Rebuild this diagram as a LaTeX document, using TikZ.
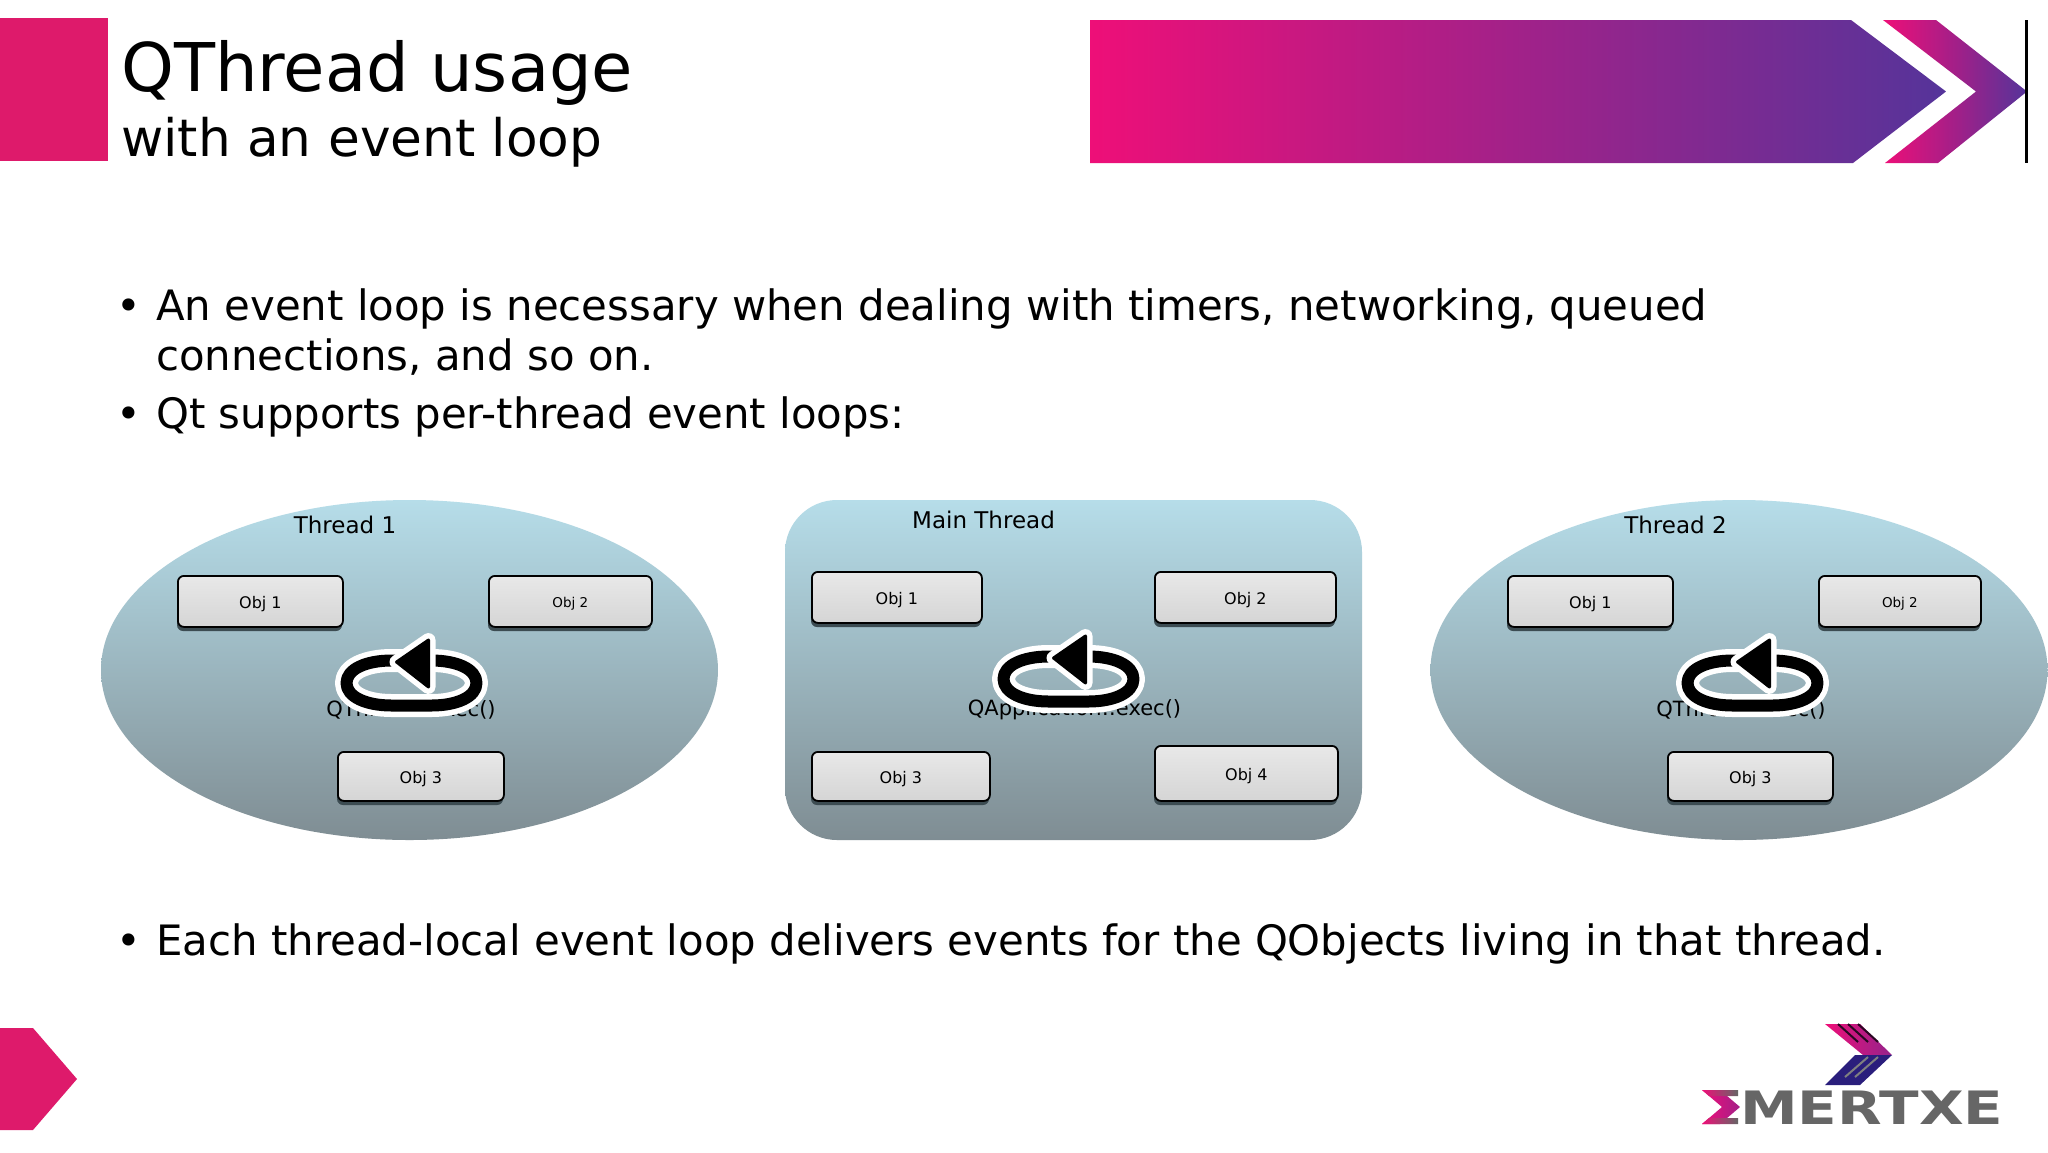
\documentclass[tikz,border=0pt]{standalone}
\usepackage{fontspec}
\setmainfont{DejaVu Sans}
\usetikzlibrary{shapes.geometric}
\definecolor{pinkblock}{HTML}{DE1A6B}
\definecolor{gradA}{HTML}{EE0F78}
\definecolor{gradB}{HTML}{A31F88}
\definecolor{gradC}{HTML}{55349A}
\definecolor{skytop}{HTML}{B6DDE9}
\definecolor{skybot}{HTML}{7F8D93}
\definecolor{boxshadow}{HTML}{3C4C52}
\definecolor{logogray}{HTML}{666666}
\definecolor{logoblue}{HTML}{2A1E7C}
\newcommand{\fsz}[1]{\fontsize{#1}{#1}\selectfont}
\newcommand{\loopicon}[3]{%
  \begin{scope}[shift={(#1,#2)}]
    \path[draw=white,line width=23pt,line join=round] (-65,0) .. controls (-65,-14) and (-45,-22.5) .. (-20,-22.5) -- (20,-22.5) .. controls (45,-22.5) and (65,-14) .. (65,0) .. controls (65,14) and (45,22.5) .. (20,22.5) -- (-20,22.5) .. controls (-45,22.5) and (-65,14) .. (-65,0) -- cycle;
    \path[draw=black,line width=12pt,line join=round] (-65,0) .. controls (-65,-14) and (-45,-22.5) .. (-20,-22.5) -- (20,-22.5) .. controls (45,-22.5) and (65,-14) .. (65,0) .. controls (65,14) and (45,22.5) .. (20,22.5) -- (-20,22.5) .. controls (-45,22.5) and (-65,14) .. (-65,0) -- cycle;
    \path[draw=white,line width=14pt,line join=round,fill=white] (-15,-21) -- (17,-43) -- (17,4) -- cycle;
    \path[draw=black,line width=3pt,line join=round,fill=black] (-15,-21) -- (17,-43) -- (17,4) -- cycle;
  \end{scope}}
\tikzset{
  x=1pt,y=-1pt,
  band/.style={left color=gradA,middle color=gradB,right color=gradC},
  blob/.style={top color=skytop,bottom color=skybot,inner sep=0pt,minimum width=#1,minimum height=340pt},
  objbox/.style={anchor=north west,rounded corners=6pt,draw=black,line width=1.8pt,top color=gray!18,bottom color=gray!33,inner sep=0pt},
  objshadow/.style={fill=boxshadow,rounded corners=6pt},
  objtext/.style={inner sep=0pt,text=black,yshift=-2.5pt},
  bullettext/.style={anchor=base west,inner sep=0pt,font=\fsz{41.85},text=black},
  bulletdot/.style={anchor=base,inner sep=0pt,font=\fsz{41.85},text=black},
  threadlabel/.style={inner sep=0pt,font=\fsz{23},text=black},
  execlabel/.style={inner sep=0pt,font=\fsz{21},text=black},
}
\newcommand{\objb}[7]{% name x1 y1 x2 y2 text size
  \fill[objshadow] (#2,#3+4) rectangle (#4,#5+5);
  \node[objbox,minimum width=#4pt-#2pt,minimum height=#5pt-#3pt] (#1) at (#2,#3) {};
  \node[objtext,font=\fsz{#7}] (#1t) at (#1.center) {#6};}
\begin{document}
\begin{tikzpicture}
\useasboundingbox (0,0) rectangle (2048,1152);
\fill[white] (0,0) rectangle (2048,1152);
% header
\fill[pinkblock] (0,18) rectangle (108,161);
\node[anchor=base west,inner sep=0pt,font=\fsz{67.2}] (title) at (121,91.5) {QThread usage};
\node[anchor=base west,inner sep=0pt,font=\fsz{51.7}] (subtitle) at (121,156.5) {with an event loop};
\path[band] (1090,20) -- (1851,20) -- (1946,91.5) -- (1853,163) -- (1090,163) -- cycle;
\path[left color=gradA,right color=gradC,middle color=gradB] (1883,20) -- (1936,20) -- (2027,91.5) -- (1938,163) -- (1885,163) -- (1976,91.5) -- cycle;
\draw[black,line width=3pt] (2026,20) -- (2026,163);
% bullets
\node[bulletdot] (b1) at (129,320) {•};
\node[bullettext] (t1) at (156,320) {An event loop is necessary when dealing with timers, networking, queued};
\node[bullettext] (t1b) at (156,370) {connections, and so on.};
\node[bulletdot] (b2) at (129,428) {•};
\node[bullettext] (t2) at (156,428) {Qt supports per-thread event loops:};
\node[bulletdot] (b3) at (129,955) {•};
\node[bullettext] (t3) at (156,955) {Each thread-local event loop delivers events for the QObjects living in that thread.};
% blobs
\node[ellipse,blob=617pt] (thr1) at (409.5,670) {};
\node[ellipse,blob=617pt] (thr2) at (1739,670) {};
\path[top color=skytop,bottom color=skybot,rounded corners=52pt] (785,500) rectangle (1362,840);
\node[inner sep=0pt,minimum width=577pt,minimum height=340pt] (main) at (1073.5,670) {};
\node[threadlabel] (l1) at (345,525) {Thread 1};
\node[threadlabel] (l2) at (983.5,520) {Main Thread};
\node[threadlabel] (l3) at (1675.5,525) {Thread 2};
% objects thread 1
\objb{a1}{177}{575}{342}{626}{Obj 1}{16}
\objb{a2}{488}{575}{651}{626}{Obj 2}{13.5}
\objb{a3}{337}{751}{503}{800}{Obj 3}{16}
% objects main
\objb{m1}{811}{571}{981}{622}{Obj 1}{16}
\objb{m2}{1154}{571}{1335}{622}{Obj 2}{16}
\objb{m3}{811}{751}{989}{800}{Obj 3}{16}
\objb{m4}{1154}{745}{1337}{800}{Obj 4}{16}
% objects thread 2
\objb{c1}{1507}{575}{1672}{626}{Obj 1}{16}
\objb{c2}{1818}{575}{1980}{626}{Obj 2}{13.5}
\objb{c3}{1667}{751}{1832}{800}{Obj 3}{16}
% exec labels and loop icons
\node[execlabel] (e1) at (411,709.5) {QThread::exec()};
\node[execlabel] (e2) at (1074.5,709.5) {QApplication::exec()};
\node[execlabel] (e3) at (1741,709.5) {QThread::exec()};
\loopicon{411.5}{683}{}
\loopicon{1068.5}{679}{}
\loopicon{1752.5}{683}{}
% footer pentagon
\fill[pinkblock] (0,1028) -- (33,1028) -- (77,1079) -- (33,1130) -- (0,1130) -- cycle;
% logo
\path[left color=gradA,right color=gradB!80!gradC] (1825,1024) -- (1860,1024) -- (1892,1055) -- (1863,1055) -- cycle;
\path[fill=logoblue] (1892,1055) -- (1860,1085) -- (1825,1085) -- (1855,1055) -- cycle;
\draw[black!75!gradB,line width=2pt] (1838,1024) -- (1858,1042) (1848,1024) -- (1868,1042) (1858,1024) -- (1878,1042);
\draw[gray,line width=2pt] (1878,1057) -- (1855,1077) (1868,1057) -- (1845,1077);
\path[left color=gradA,right color=gradB] (1702,1090) -- (1720,1090) -- (1740,1107) -- (1720,1124) -- (1702,1124) -- (1722,1107) -- cycle;
\path[left color=gradA,right color=logogray] (1702,1090) -- (1738,1090) -- (1738,1096) -- (1709,1096) -- cycle;
\path[left color=gradA,right color=logogray] (1702,1124) -- (1738,1124) -- (1738,1118) -- (1709,1118) -- cycle;
\node[anchor=base west,inner sep=0pt,font=\fsz{46}\bfseries,text=logogray,xscale=1.26] (logo) at (1740,1124) {MERTXE};
\end{tikzpicture}
\end{document}
